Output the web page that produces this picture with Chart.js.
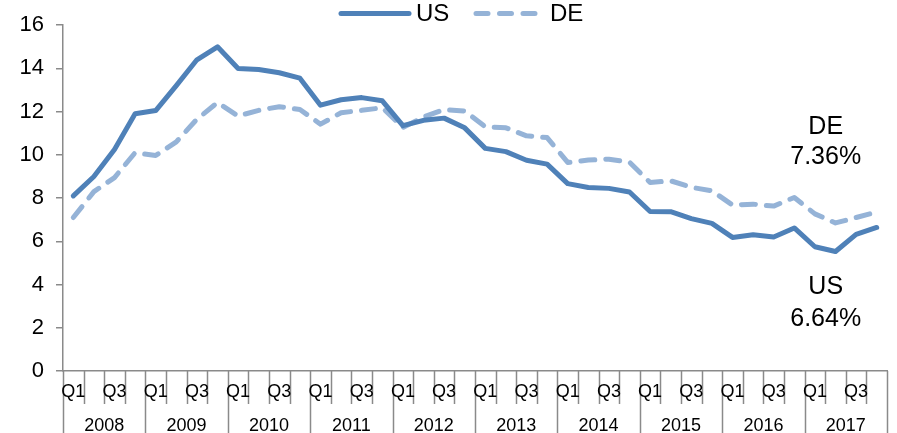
<!DOCTYPE html>
<html>
<head>
<meta charset="utf-8">
<script src="https://cdn.jsdelivr.net/npm/chart.js@4/dist/chart.umd.min.js"></script>
<style>
  html, body { margin: 0; padding: 0; background: #fff; }
  #wrap { width: 897px; height: 433px; position: relative; }
</style>
</head>
<body>
<div id="wrap"><canvas id="c" width="897" height="433"></canvas></div>
<script>
// Quarterly series, 2008 Q1 – 2017 Q4
const years = ['2008', '2009', '2010', '2011', '2012', '2013', '2014', '2015', '2016', '2017'];
const quarters = ['Q1', 'Q2', 'Q3', 'Q4'];
const usValues = [
  8.1, 9.0, 10.25, 11.9,
  12.05, 13.2, 14.4, 15.0,
  14.0, 13.95, 13.8, 13.55,
  12.3, 12.55, 12.65, 12.5,
  11.35, 11.6, 11.7, 11.25,
  10.3, 10.15, 9.75, 9.57,
  8.67, 8.49, 8.45, 8.28,
  7.38, 7.37, 7.05, 6.83,
  6.18, 6.3, 6.2, 6.62,
  5.75, 5.53, 6.32, 6.64
];
const deValues = [
  7.1, 8.3, 8.95, 10.1,
  9.97, 10.6, 11.65, 12.42,
  11.8, 12.06, 12.23, 12.1,
  11.42, 11.95, 12.06, 12.18,
  11.27, 11.75, 12.1, 12.03,
  11.3, 11.25, 10.88, 10.8,
  9.65, 9.76, 9.8, 9.66,
  8.72, 8.8, 8.5, 8.34,
  7.68, 7.72, 7.63, 8.03,
  7.27, 6.85, 7.1, 7.36
];
const yTicks = [0, 2, 4, 6, 8, 10, 12, 14, 16];
const seriesNames = ['US', 'DE'];
const endLabels = ['6.64%', '7.36%'];

const categories = [];
years.forEach(y => quarters.forEach(q => categories.push(y + ' ' + q)));

const US_COLOR = '#4f81b8';
const DE_COLOR = '#95b3d7';
const AXIS_COLOR = '#8a8a8a';
const FONT = '"Liberation Sans", Arial, sans-serif';

// Two-level category axis (quarters over years), legend and end-of-line labels
const decorations = {
  id: 'decorations',
  afterDraw(chart) {
    const ctx = chart.ctx;
    const xs = chart.scales.x;
    const ys = chart.scales.y;
    const area = chart.chartArea;
    const step = xs.getPixelForValue(1) - xs.getPixelForValue(0);
    const boundary = i => xs.getPixelForValue(i) - step / 2;
    const axisY = area.bottom;

    ctx.save();
    ctx.strokeStyle = AXIS_COLOR;
    ctx.lineWidth = 1.5;
    for (let i = 0; i <= categories.length; i++) {
      const x = Math.round(boundary(i)) + 0.5;
      const isYear = i % 4 === 0;
      ctx.beginPath();
      ctx.moveTo(x, axisY);
      ctx.lineTo(x, isYear ? chart.height : axisY + 33);
      ctx.stroke();
    }

    ctx.fillStyle = '#000';
    ctx.textAlign = 'center';
    ctx.textBaseline = 'middle';
    ctx.font = '18px ' + FONT;
    categories.forEach((c, i) => {
      const q = quarters[i % 4];
      if (i % 2 === 0) ctx.fillText(q, xs.getPixelForValue(i), axisY + 21);
    });
    years.forEach((y, k) => {
      const cx = (boundary(k * 4) + boundary(k * 4 + 4)) / 2;
      ctx.fillText(y, cx, axisY + 55);
    });

    // legend
    const ly = 13.5;
    ctx.lineCap = 'round';
    ctx.lineWidth = 5;
    ctx.strokeStyle = US_COLOR;
    ctx.setLineDash([]);
    ctx.beginPath(); ctx.moveTo(341, ly); ctx.lineTo(409, ly); ctx.stroke();
    ctx.strokeStyle = DE_COLOR;
    ctx.setLineDash([12, 11.5]);
    ctx.beginPath(); ctx.moveTo(476, ly); ctx.lineTo(536, ly); ctx.stroke();
    ctx.setLineDash([]);
    ctx.font = '24px ' + FONT;
    ctx.textAlign = 'left';
    ctx.fillText(seriesNames[0], 416, ly + 1);
    ctx.fillText(seriesNames[1], 550, ly + 1);

    // end-of-line labels
    const last = categories.length - 1;
    const lx = xs.getPixelForValue(last) - 51;
    ctx.textAlign = 'center';
    ctx.font = '25px ' + FONT;
    const deY = ys.getPixelForValue(deValues[last]);
    ctx.fillText(seriesNames[1], lx, deY - 85);
    ctx.fillText(endLabels[1], lx, deY - 55);
    const usY = ys.getPixelForValue(usValues[last]);
    ctx.fillText(seriesNames[0], lx, usY + 60);
    ctx.fillText(endLabels[0], lx, usY + 92);
    ctx.restore();
  }
};

new Chart(document.getElementById('c'), {
  type: 'line',
  data: {
    labels: categories,
    datasets: [
      {
        label: seriesNames[0],
        data: usValues,
        borderColor: US_COLOR,
        borderWidth: 5,
        borderJoinStyle: 'round',
        borderCapStyle: 'round',
        pointRadius: 0,
        tension: 0,
        fill: false
      },
      {
        label: seriesNames[1],
        data: deValues,
        borderColor: DE_COLOR,
        borderWidth: 5,
        borderDash: [14, 11],
        borderJoinStyle: 'round',
        borderCapStyle: 'round',
        pointRadius: 0,
        tension: 0,
        fill: false
      }
    ]
  },
  options: {
    responsive: false,
    animation: false,
    devicePixelRatio: 1,
    layout: { padding: { top: 24, right: 10, left: 0, bottom: 0 } },
    plugins: {
      legend: { display: false },
      tooltip: { enabled: false }
    },
    scales: {
      x: {
        type: 'category',
        offset: true,
        grid: { display: false },
        border: { display: true, color: AXIS_COLOR, width: 1.5 },
        ticks: { display: false },
        afterFit(scale) { scale.height = 62; }
      },
      y: {
        min: 0,
        max: 16,
        afterBuildTicks(scale) { scale.ticks = yTicks.map(v => ({ value: v })); },
        grid: {
          drawOnChartArea: false,
          drawTicks: true,
          tickLength: 7,
          color: AXIS_COLOR,
          lineWidth: 1.5
        },
        border: { display: true, color: AXIS_COLOR, width: 1.5 },
        ticks: {
          color: '#000',
          padding: 12,
          font: { size: 22, family: FONT }
        },
        afterFit(scale) { scale.width = 63; }
      }
    }
  },
  plugins: [decorations]
});
</script>
</body>
</html>
